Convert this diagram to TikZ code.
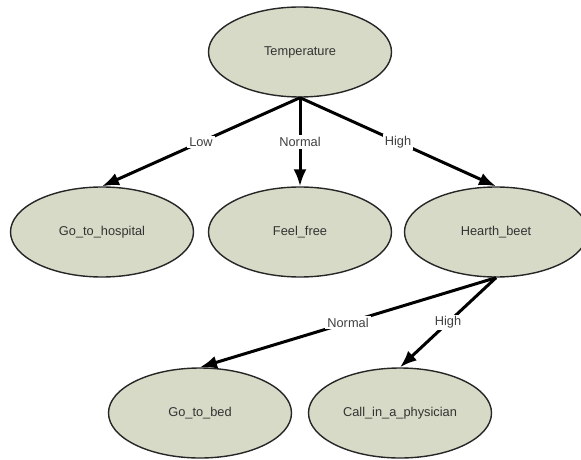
\documentclass[tikz,border=0pt]{standalone}
\usepackage{fontspec}
\setmainfont{Liberation Sans}
\usetikzlibrary{arrows.meta, shapes.geometric}
\definecolor{nodefill}{RGB}{214,218,198}
\tikzset{state/.style = {ellipse, draw = black!85, fill = nodefill, line width = 0.7pt,
    minimum width = 91.5pt, minimum height = 45pt, inner sep = 0pt,
    text = black!80, font = \fontsize{6.4}{7.5}\selectfont}}
\tikzset{branch/.style = {draw, line width = 1.5pt, -{Latex[length=8.5pt, width=6.5pt]}}}
\tikzset{cond/.style = {fill = white, inner sep = 1pt, text = black!75,
    font = \fontsize{6.4}{7.5}\selectfont}}

\begin{document}
\begin{tikzpicture}[x=0.5pt, y=-0.5pt]
\useasboundingbox (0,0) rectangle (581,459);
% nodes
\node[state] (temp) at (300,52) {Temperature};
\node[state] (hospital) at (102,232) {Go\_to\_hospital};
\node[state] (free) at (300,232) {Feel\_free};
\node[state] (heart) at (496,232) {Hearth\_beet};
\node[state] (bed) at (200,413) {Go\_to\_bed};
\node[state] (physician) at (400,413) {Call\_in\_a\_physician};
% branches
\draw[branch] (temp.south) -- node[cond] {Low} (hospital.north);
\draw[branch] (temp.south) -- node[cond] {Normal} (free.north);
\draw[branch] (temp.south) -- node[cond] {High} (heart.north);
\draw[branch] (heart.south) -- node[cond] {Normal} (bed.north);
\draw[branch] (heart.south) -- node[cond] {High} (physician.north);
\end{tikzpicture}
\end{document}
